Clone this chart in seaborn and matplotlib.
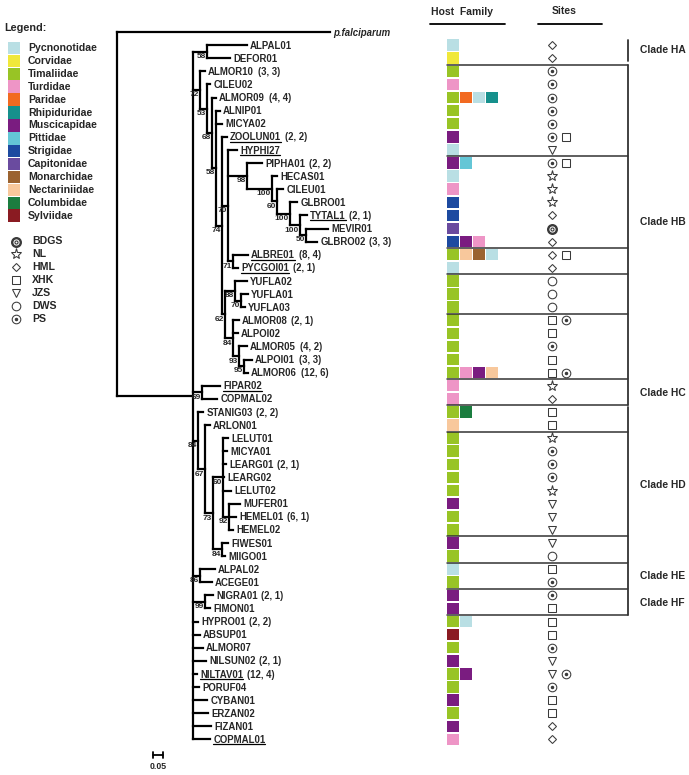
import numpy as np
import pandas as pd
import seaborn as sns
import matplotlib.pyplot as plt
from matplotlib.collections import LineCollection

sns.set_theme(style="white")
plt.rcParams["font.family"] = ["Liberation Sans", "DejaVu Sans"]
plt.rcParams["font.weight"] = "bold"

# -------------------------------
# TREE DATA (leaves top to bottom, branch lengths in subst./site)
# -------------------------------
leaf_names = [
    "p.falciparum", "ALPAL01", "DEFOR01", "ALMOR10", "CILEU02", "ALMOR09", "ALNIP01",
    "MICYA02", "ZOOLUN01", "HYPHI27", "PIPHA01", "HECAS01", "CILEU01", "GLBRO01",
    "TYTAL1", "MEVIR01", "GLBRO02", "ALBRE01", "PYCGOI01", "YUFLA02", "YUFLA01",
    "YUFLA03", "ALMOR08", "ALPOI02", "ALMOR05", "ALPOI01", "ALMOR06", "FIPAR02",
    "COPMAL02", "STANIG03", "ARLON01", "LELUT01", "MICYA01", "LEARG01", "LEARG02",
    "LELUT02", "MUFER01", "HEMEL01", "HEMEL02", "FIWES01", "MIIGO01", "ALPAL02",
    "ACEGE01", "NIGRA01", "FIMON01", "HYPRO01", "ABSUP01", "ALMOR07", "NILSUN02",
    "NILTAV01", "PORUF04", "CYBAN01", "ERZAN02", "FIZAN01", "COPMAL01",
]
leaf_parent = [
    "R", "HA", "HA", "N72", "N53", "N68", "N58",
    "N58", "N74", "N70", "N98", "N100a", "N60b", "N100b",
    "N100c", "N50", "N50", "N71", "N71", "N88", "N70b",
    "N70b", "N84", "N84", "N93", "N95", "N95", "HC",
    "HC", "N84b", "N67", "N60", "N60", "N60", "N60",
    "N60", "N92", "N92", "N92", "N84c", "N84c", "N86",
    "N86", "N99", "N99", "N0", "N0", "N0", "N0",
    "N0", "N0", "N0", "N0", "N0", "N0",
]
leaf_length = [
    1.065, 0.200, 0.115, 0.025, 0.015, 0.020, 0.020,
    0.030, 0.025, 0.045, 0.075, 0.025, 0.030, 0.035,
    0.035, 0.110, 0.055, 0.075, 0.025, 0.060, 0.035,
    0.020, 0.030, 0.025, 0.040, 0.040, 0.020, 0.090,
    0.075, 0.025, 0.025, 0.025, 0.020, 0.015, 0.005,
    0.040, 0.055, 0.035, 0.020, 0.030, 0.015, 0.075,
    0.060, 0.040, 0.025, 0.025, 0.035, 0.050, 0.065,
    0.020, 0.030, 0.070, 0.075, 0.090, 0.085,
]

node_names = ["R", "N0", "HA", "N72", "N53", "N68", "N58", "N74", "N70", "N98",
              "N100a", "N60b", "N100b", "N100c", "N50", "N71", "N62", "N88", "N70b",
              "N84", "N93", "N95", "HC", "N84b", "N67", "N73", "N60", "N92", "N84c",
              "N86", "N99"]
node_parent = [None, "R", "N0", "N0", "N72", "N53", "N68", "N58", "N74", "N70",
               "N98", "N100a", "N60b", "N100b", "N100c", "N70", "N74", "N62", "N88",
               "N62", "N84", "N93", "N0", "N0", "N84b", "N67", "N73", "N60", "N73",
               "N0", "N0"]
node_length = [0.0, 0.380, 0.070, 0.035, 0.035, 0.025, 0.020, 0.030, 0.030, 0.095,
               0.125, 0.025, 0.065, 0.050, 0.030, 0.025, 0.015, 0.050, 0.030,
               0.040, 0.030, 0.025, 0.045, 0.025, 0.035, 0.040, 0.050, 0.030, 0.045,
               0.035, 0.060]
node_support = [None, None, 58, 72, 53, 68, 58, 74, 70, 98,
                100, 60, 100, 100, 50, 71, 62, 88, 70,
                84, 93, 95, 69, 84, 67, 73, 60, 92, 84,
                86, 99]

counts = {
    "ALMOR10": "(3, 3)", "ALMOR09": "(4, 4)", "ZOOLUN01": "(2, 2)", "PIPHA01": "(2, 2)",
    "TYTAL1": "(2, 1)", "GLBRO02": "(3, 3)", "ALBRE01": "(8, 4)", "PYCGOI01": "(2, 1)",
    "ALMOR08": "(2, 1)", "ALMOR05": "(4, 2)", "ALPOI01": "(3, 3)", "ALMOR06": "(12, 6)",
    "STANIG03": "(2, 2)", "LEARG01": "(2, 1)", "HEMEL01": "(6, 1)", "NIGRA01": "(2, 1)",
    "HYPRO01": "(2, 2)", "NILSUN02": "(2, 1)", "NILTAV01": "(12, 4)",
}
underlined = ["ZOOLUN01", "HYPHI27", "TYTAL1", "ALBRE01", "PYCGOI01", "FIPAR02",
              "NILTAV01", "COPMAL01"]

# -------------------------------
# HOST FAMILY / SITES DATA (rows = leaves 1..54)
# -------------------------------
family_names = ["Pycnonotidae", "Corvidae", "Timaliidae", "Turdidae", "Paridae",
                "Rhipiduridae", "Muscicapidae", "Pittidae", "Strigidae", "Capitonidae",
                "Monarchidae", "Nectariniidae", "Columbidae", "Sylviidae"]
family_colors = ["#b9dfe4", "#f0e83a", "#98c425", "#ee95c6", "#f26a21",
                 "#16908c", "#7a1c80", "#64c6d6", "#1d4aa0", "#6a4b9f",
                 "#9b6330", "#f8c89c", "#1b7d3f", "#8a1b22"]

host_family = [
    ["Pycnonotidae"], ["Corvidae"], ["Timaliidae"], ["Turdidae"],
    ["Timaliidae", "Paridae", "Pycnonotidae", "Rhipiduridae"],
    ["Timaliidae"], ["Timaliidae"], ["Muscicapidae"], ["Pycnonotidae"],
    ["Muscicapidae", "Pittidae"], ["Pycnonotidae"], ["Turdidae"], ["Strigidae"],
    ["Strigidae"], ["Capitonidae"], ["Strigidae", "Muscicapidae", "Turdidae"],
    ["Timaliidae", "Nectariniidae", "Monarchidae", "Pycnonotidae"], ["Pycnonotidae"],
    ["Timaliidae"], ["Timaliidae"], ["Timaliidae"], ["Timaliidae"], ["Timaliidae"],
    ["Timaliidae"], ["Timaliidae"],
    ["Timaliidae", "Turdidae", "Muscicapidae", "Nectariniidae"],
    ["Turdidae"], ["Turdidae"], ["Timaliidae", "Columbidae"], ["Nectariniidae"],
    ["Timaliidae"], ["Timaliidae"], ["Timaliidae"], ["Timaliidae"], ["Timaliidae"],
    ["Muscicapidae"], ["Timaliidae"], ["Timaliidae"], ["Muscicapidae"], ["Timaliidae"],
    ["Pycnonotidae"], ["Timaliidae"], ["Muscicapidae"], ["Muscicapidae"],
    ["Timaliidae", "Pycnonotidae"], ["Sylviidae"], ["Timaliidae"], ["Muscicapidae"],
    ["Timaliidae", "Muscicapidae"], ["Timaliidae"], ["Muscicapidae"], ["Timaliidae"],
    ["Muscicapidae"], ["Turdidae"],
]

site_codes = ["BDGS", "NL", "HML", "XHK", "JZS", "DWS", "PS"]
sites = [
    ["HML"], ["HML"], ["PS"], ["PS"], ["PS"], ["PS"], ["PS"], ["PS", "XHK"], ["JZS"],
    ["PS", "XHK"], ["NL"], ["NL"], ["NL"], ["HML"], ["BDGS"], ["HML"], ["HML", "XHK"],
    ["HML"], ["DWS"], ["DWS"], ["DWS"], ["XHK", "PS"], ["XHK"], ["PS"], ["XHK"],
    ["XHK", "PS"],
    ["NL"], ["HML"], ["XHK"], ["XHK"], ["NL"], ["PS"], ["PS"], ["PS"], ["NL"], ["JZS"],
    ["JZS"], ["JZS"], ["JZS"], ["DWS"], ["XHK"], ["PS"], ["PS"], ["XHK"], ["XHK"],
    ["XHK"], ["PS"], ["JZS"], ["JZS", "PS"], ["PS"], ["XHK"], ["XHK"], ["HML"], ["HML"],
]

clade_names = ["Clade HA", "Clade HB", "Clade HC", "Clade HD", "Clade HE", "Clade HF"]
clade_first = [1, 3, 27, 29, 41, 43]
clade_last = [2, 26, 28, 40, 42, 44]
group_breaks = [2.5, 9.5, 16.5, 18.5, 21.5, 26.5, 28.5, 30.5, 38.5, 40.5, 42.5, 44.5]

# -------------------------------
# TREE LAYOUT
# -------------------------------
parent = dict(zip(leaf_names, leaf_parent))
parent.update(zip(node_names, node_parent))
blen = dict(zip(leaf_names, leaf_length))
blen.update(zip(node_names, node_length))
children = {n: [] for n in node_names}
for n, p in parent.items():
    if p is not None:
        children[p].append(n)

xpos, ypos = {}, {}


def get_x(n):
    if n not in xpos:
        xpos[n] = 0.0 if parent[n] is None else get_x(parent[n]) + blen[n]
    return xpos[n]


def get_y(n):
    if n not in ypos:
        ys = [get_y(c) for c in children[n]]
        ypos[n] = (min(ys) + max(ys)) / 2
    return ypos[n]


for i, n in enumerate(leaf_names):
    ypos[n] = float(i)
for n in list(parent):
    get_x(n)
    get_y(n)

segs = []
for n, p in parent.items():
    if p is not None:
        segs.append([(xpos[p], ypos[n]), (xpos[n], ypos[n])])
for n in node_names:
    ys = [ypos[c] for c in children[n]]
    segs.append([(xpos[n], min(ys)), (xpos[n], max(ys))])

# -------------------------------
# FIGURE
# -------------------------------
W, H = 689, 775
fig = plt.figure(figsize=(W / 100, H / 100), dpi=100)
row0, step = 32, 13.1
ylim_rows = ((H - row0) / step, -row0 / step)

ax = fig.add_axes([0, 0, 1, 1])
ax.set_xlim(-117 * 0.005, (W - 117) * 0.005)
ax.set_ylim(*ylim_rows)
ax.axis("off")
ax.add_collection(LineCollection(segs, colors="black", linewidths=1.6, capstyle="projecting"))

# support values
for n, s in zip(node_names, node_support):
    if s is not None:
        ax.text(xpos[n] - 0.006, ypos[n] + 0.1, str(s), ha="right", va="top",
                fontsize=6.0, fontweight="bold")

# leaf labels
label_txt = {}
for n in leaf_names:
    t = ax.text(xpos[n] + 0.016, ypos[n] + 0.05, n, ha="left", va="center",
                fontsize=6.9, fontweight="bold",
                fontstyle="italic" if n == "p.falciparum" else "normal")
    label_txt[n] = t

fig.canvas.draw()
renderer = fig.canvas.get_renderer()
inv = ax.transData.inverted()
for n, t in label_txt.items():
    bb = t.get_window_extent(renderer)
    if n in counts:
        xd = inv.transform((bb.x1 + 3.5, 0))[0]
        ax.text(xd, ypos[n] + 0.05, counts[n], ha="left", va="center",
                fontsize=6.9, fontweight="bold")
    if n in underlined:
        (x0, yu), (x1, _) = inv.transform([(bb.x0, bb.y0 + 0.8), (bb.x1, bb.y0 + 0.8)])
        ax.plot([x0, x1], [yu, yu], color="black", lw=0.9)

# scale bar
sb_y = (755 - row0) / step
ax.plot([0.18, 0.23], [sb_y, sb_y], color="black", lw=1.3)
for xb in (0.18, 0.23):
    ax.plot([xb, xb], [sb_y - 0.25, sb_y + 0.25], color="black", lw=1.3)
ax.text(0.205, sb_y + 0.55, "0.05", ha="center", va="top", fontsize=6.3, fontweight="bold")

# -------------------------------
# HOST FAMILY + SITES PANEL
# -------------------------------
pan = fig.add_axes([0, 0, 1, 1], facecolor="none")
pan.set_xlim(0, W)
pan.set_ylim(*ylim_rows)
pan.axis("off")

palette = dict(zip(family_names, family_colors))
rows = []
for i, fams in enumerate(host_family, start=1):
    for j, f in enumerate(fams):
        rows.append({"x": 453 + 13 * j, "y": i, "family": f})
host_df = pd.DataFrame(rows)
sns.scatterplot(data=host_df, x="x", y="y", hue="family", palette=palette, marker="s",
                s=68, linewidth=0, legend=False, ax=pan)


def draw_sites(a, xs, ys, code):
    kw = dict(ls="none", mfc="none", mec="#3a3a3a", mew=0.75)
    if code == "HML":
        a.plot(xs, ys, marker="D", ms=4.4, **kw)
    elif code == "NL":
        a.plot(xs, ys, marker="*", ms=8, **kw)
    elif code == "XHK":
        a.plot(xs, ys, marker="s", ms=5.4, **kw)
    elif code == "JZS":
        a.plot(xs, ys, marker="v", ms=6, **kw)
    elif code == "DWS":
        a.plot(xs, ys, marker="o", ms=6.2, **kw)
    elif code == "PS":
        a.plot(xs, ys, marker="o", ms=6.2, **kw)
        a.plot(xs, ys, ls="none", marker="o", ms=1.5, color="#3a3a3a")
    elif code == "BDGS":
        kw["mew"] = 1.7
        a.plot(xs, ys, marker="o", ms=6.2, **kw)
        a.plot(xs, ys, ls="none", marker="o", ms=2.2, mfc="none", mec="#3a3a3a", mew=0.8)


for code in site_codes:
    xs, ys = [], []
    for i, sl in enumerate(sites, start=1):
        for j, c in enumerate(sl):
            if c == code:
                xs.append(552 + 13.5 * j)
                ys.append(i)
    draw_sites(pan, xs, ys, code)

line_kw = dict(color="#333333", lw=1.1)
for b in group_breaks:
    pan.plot([447, 628], [b, b], **line_kw)
for name, a, b in zip(clade_names, clade_first, clade_last):
    top = a - 0.5 if name == "Clade HB" else a - 0.4
    bot = b + 0.5 if name != "Clade HA" else b + 0.2
    pan.plot([628, 628], [top, bot], color="#333333", lw=1.3)
    pan.text(640, (top + bot) / 2, name, ha="left", va="center", fontsize=7.4,
             fontweight="bold")

# column headers
fig.text(431 / W, 1 - 12 / H, "Host  Family", ha="left", va="center", fontsize=7.5,
         fontweight="bold")
fig.text(564 / W, 1 - 11 / H, "Sites", ha="center", va="center", fontsize=7.5,
         fontweight="bold")
pan.plot([430, 505], [(24 - row0) / step] * 2, color="black", lw=1.3)
pan.plot([538, 602], [(24 - row0) / step] * 2, color="black", lw=1.3)

# -------------------------------
# LEGEND
# -------------------------------
leg = fig.add_axes([0, 0, 1, 1], facecolor="none")
leg.set_xlim(0, W)
leg.set_ylim((H - 48) / 12.9, -48 / 12.9)
leg.axis("off")
leg.text(4, -1.55, "Legend:", ha="left", va="center", fontsize=7.8, fontweight="bold")
leg_df = pd.DataFrame({"x": 14, "y": np.arange(len(family_names)), "family": family_names})
sns.scatterplot(data=leg_df, x="x", y="y", hue="family", palette=palette, marker="s",
                s=80, linewidth=0, legend=False, ax=leg)
for k, f in enumerate(family_names):
    leg.text(28, k, f, ha="left", va="center", fontsize=7.6, fontweight="bold")
for k, code in enumerate(site_codes):
    draw_sites(leg, [16], [15 + k], code)
    leg.text(32, 15 + k, code, ha="left", va="center", fontsize=7.6, fontweight="bold")

fig.savefig("out.png", dpi=100)
